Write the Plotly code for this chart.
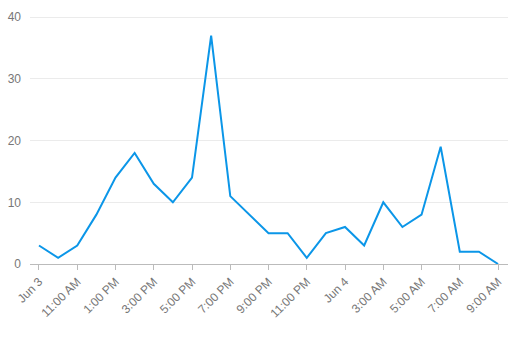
import plotly.graph_objects as go

hours = list(range(25))
values = [3, 1, 3, 8, 14, 18, 13, 10, 14, 37, 11, 8, 5, 5, 1, 5, 6, 3, 10, 6, 8, 19, 2, 2, 0]
tick_positions = list(range(0, 25, 2))
tick_labels = ["Jun 3", "11:00 AM", "1:00 PM", "3:00 PM", "5:00 PM", "7:00 PM", "9:00 PM",
               "11:00 PM", "Jun 4", "3:00 AM", "5:00 AM", "7:00 AM", "9:00 AM"]
y_ticks = [0, 10, 20, 30, 40]

fig = go.Figure(go.Scatter(
    x=hours, y=values, mode="lines",
    line=dict(color="#0b96e8", width=2),
    hoverinfo="skip",
))

fig.update_layout(
    width=510, height=337,
    margin=dict(l=30, r=2, t=16, b=73),
    paper_bgcolor="white", plot_bgcolor="white",
    font=dict(family="Liberation Sans, Arial, sans-serif", size=12, color="#777777"),
    showlegend=False,
)
fig.update_xaxes(
    range=[-0.47, 24.52],
    tickmode="array", tickvals=tick_positions, ticktext=tick_labels,
    tickangle=-45, ticks="outside", ticklen=5, tickcolor="#bbbbbb",
    showline=True, linecolor="#bbbbbb", linewidth=1,
    showgrid=False, zeroline=False,
)
fig.update_yaxes(
    range=[0, 40.2],
    tickmode="array", tickvals=y_ticks,
    showgrid=True, gridcolor="#ebebeb", gridwidth=1,
    zeroline=False, showline=False, ticks="", ticklabelstandoff=8,
)

fig.write_html("out.html")
